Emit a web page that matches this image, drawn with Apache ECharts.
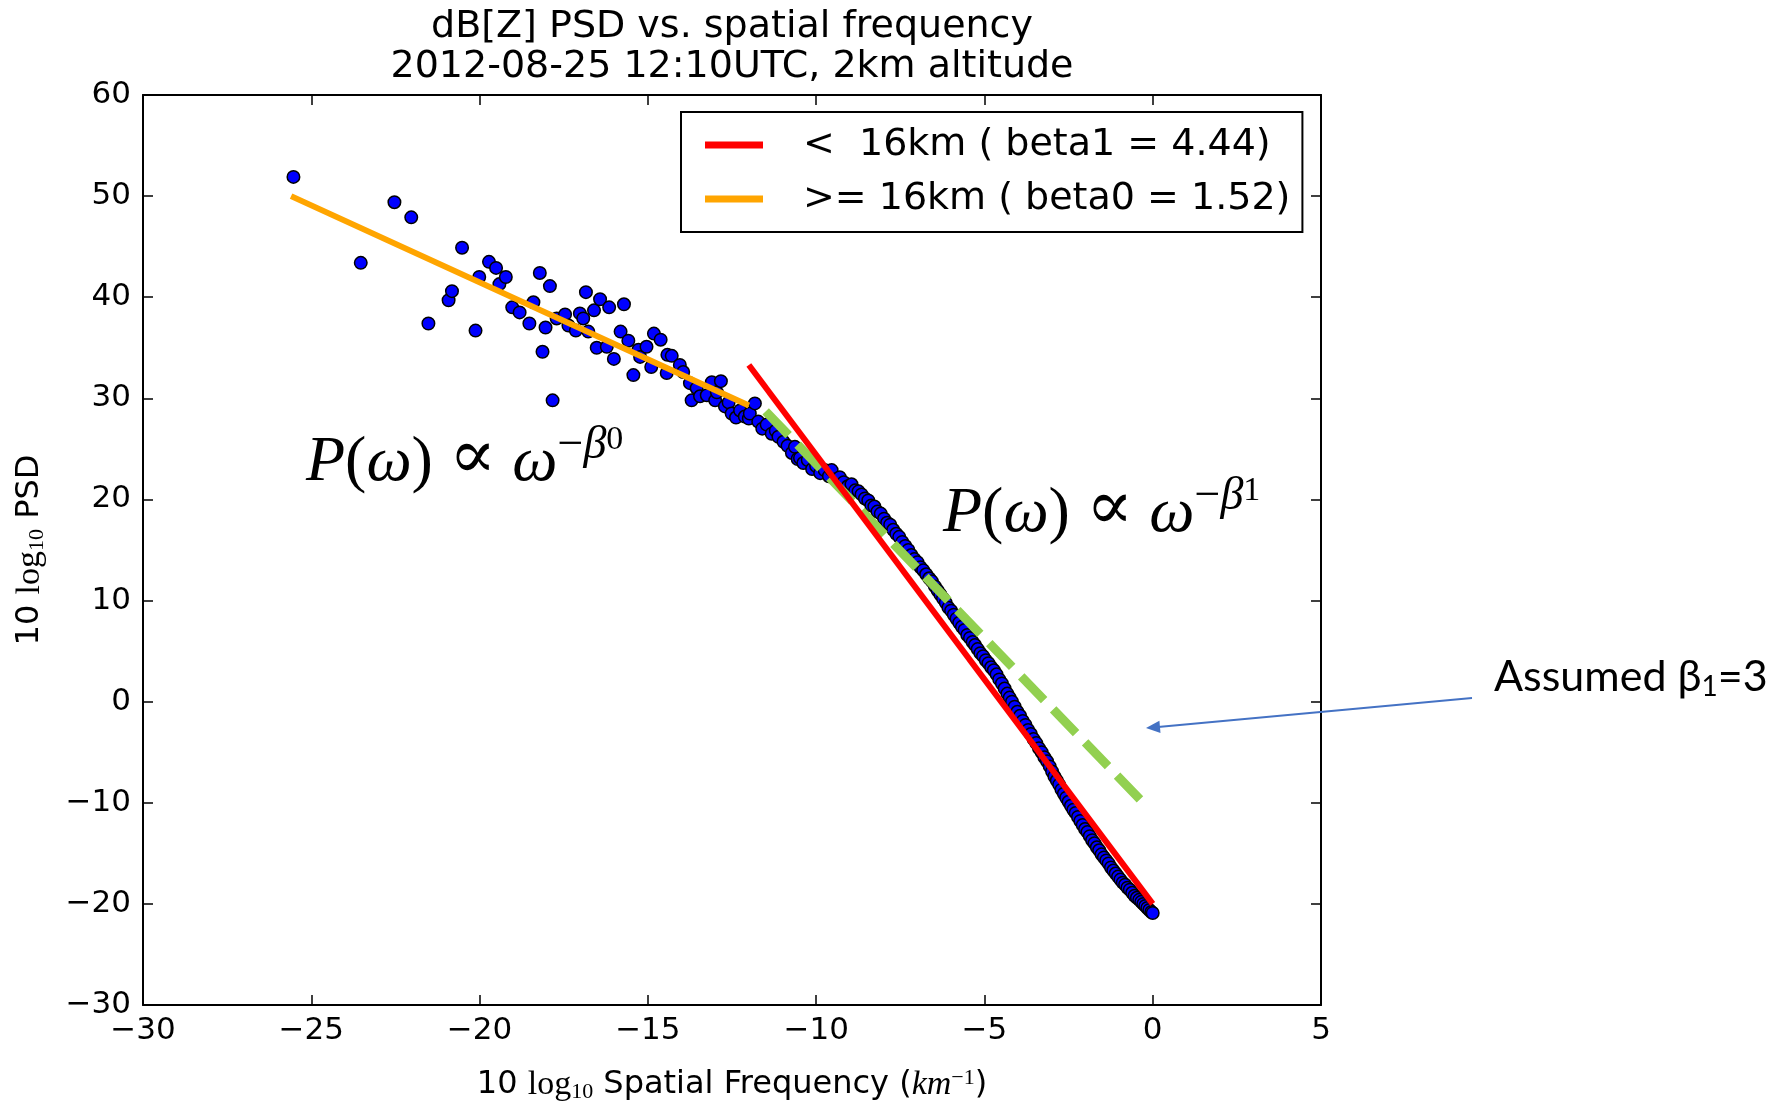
<!DOCTYPE html>
<html>
<head>
<meta charset="utf-8">
<title>dB[Z] PSD vs. spatial frequency</title>
<script src="https://cdn.jsdelivr.net/npm/echarts@6.0.0/dist/echarts.min.js"></script>
<style>
  html, body { margin: 0; padding: 0; background: #fff; }
  #chart { width: 1791px; height: 1104px; }
</style>
</head>
<body>
<div id="chart"></div>
<script>
/* 10 log10 spatial frequency (km^-1) of each PSD sample */
const freqDb = [
  -25.53, -23.53, -22.53, -22.03, -21.52, -20.92, -20.82, -20.52, -20.12, -20.01,
  -19.72, -19.51, -19.41, -19.22, -19.03, -18.81, -18.52, -18.40, -18.21, -18.13,
  -18.04, -17.91, -17.83, -17.71, -17.46, -17.36, -17.14, -17.02, -16.92, -16.84,
  -16.77, -16.60, -16.52, -16.42, -16.22, -16.15, -16.01, -15.81, -15.71, -15.58,
  -15.43, -15.28, -15.23, -15.04, -14.90, -14.82, -14.62, -14.44, -14.42, -14.29,
  -14.05, -13.95, -13.75, -13.70, -13.55, -13.45, -13.25, -13.10, -13.00, -12.95,
  -12.83, -12.71, -12.60, -12.51, -12.38, -12.26, -12.12, -12.00, -11.97, -11.82,
  -11.72, -11.60, -11.47, -11.32, -11.20, -11.12, -10.97,
  -10.85, -10.72, -10.63, -10.55, -10.48, -10.38, -10.25, -10.12, -10.00, -9.88,
  -9.75, -9.62, -9.54, -9.42, -9.30, -9.18, -9.06, -8.95, -8.84, -8.74,
  -8.65, -8.55, -8.45, -8.36, -8.27, -8.18, -8.08, -7.98, -7.89, -7.80,
  -7.71, -7.62, -7.53, -7.44, -7.35, -7.26, -7.17, -7.08, -6.99, -6.90,
  -6.82, -6.73, -6.64, -6.56, -6.47, -6.39, -6.31, -6.23, -6.15, -6.07,
  -5.99, -5.91, -5.83, -5.75, -5.67, -5.59, -5.51, -5.43, -5.35, -5.28,
  -5.20, -5.12, -5.04, -4.96, -4.88, -4.80, -4.72, -4.64, -4.56, -4.48,
  -4.40, -4.32, -4.25, -4.18, -4.10, -4.02, -3.94, -3.86, -3.78, -3.70,
  -3.62, -3.54, -3.46, -3.38, -3.30, -3.22, -3.14, -3.06, -2.99, -2.92,
  -2.85, -2.78, -2.71, -2.64, -2.57, -2.50, -2.43, -2.36, -2.29, -2.22,
  -2.15, -2.08, -2.01, -1.94, -1.87, -1.80, -1.73, -1.66, -1.59, -1.52,
  -1.45, -1.38, -1.31, -1.24, -1.17, -1.10, -1.03, -0.96, -0.89, -0.82,
  -0.75, -0.68, -0.61, -0.54, -0.47, -0.40, -0.34, -0.28, -0.22, -0.16,
  -0.10, -0.04, 0.00
];

/* 10 log10 PSD of each sample (same order as freqDb) */
const psdDb = [
  51.9, 43.4, 49.4, 47.9, 37.4, 39.7, 40.6, 44.9, 36.7, 42.0,
  43.5, 42.9, 41.3, 42.0, 39.0, 38.5, 37.4, 39.5, 42.4, 34.6,
  37.0, 41.1, 29.8, 37.9, 38.3, 37.2, 36.7, 38.4, 37.9, 40.5,
  36.6, 38.7, 35.0, 39.8, 35.1, 39.0, 33.9, 36.6, 39.3, 35.7,
  32.3, 34.8, 34.1, 35.1, 33.1, 36.4, 35.8, 32.5, 34.3, 34.2,
  33.3, 32.6, 31.5, 29.8, 31.0, 30.2, 30.3, 31.6, 29.8, 30.6,
  31.7, 29.2, 29.6, 28.5, 28.1, 28.8, 28.2, 28.0, 28.5, 29.5,
  27.7, 27.0, 27.4, 26.5, 26.8, 26.2, 25.7,
  25.3, 24.6, 25.2, 24.0, 24.1, 23.6, 23.9, 23.0, 23.3, 22.6,
  22.9, 22.3, 22.9, 22.0, 22.2, 21.7, 21.3, 21.5, 20.9, 20.8,
  20.5, 20.1, 19.9, 19.4, 19.3, 18.8, 18.6, 18.1, 17.7, 17.5,
  17.0, 16.6, 16.3, 15.8, 15.4, 15.0, 14.5, 14.1, 13.8, 13.3,
  13.0, 12.6, 12.2, 11.9, 11.4, 11.0, 10.6, 10.2, 9.8, 9.3,
  9.0, 8.6, 8.2, 7.8, 7.4, 7.1, 6.6, 6.3, 5.9, 5.6,
  5.2, 4.8, 4.5, 4.1, 3.8, 3.4, 3.1, 2.7, 2.2, 1.8,
  1.3, 0.8, 0.4, 0.0, -0.5, -1.0, -1.4, -1.9, -2.3, -2.8,
  -3.2, -3.7, -4.1, -4.6, -5.0, -5.5, -5.9, -6.4, -6.9, -7.4,
  -7.8, -8.2, -8.7, -9.1, -9.5, -9.9, -10.3, -10.7, -11.0, -11.4,
  -11.8, -12.2, -12.6, -12.9, -13.3, -13.7, -14.0, -14.4, -14.7, -15.1,
  -15.4, -15.7, -16.0, -16.4, -16.7, -17.0, -17.3, -17.6, -17.9, -18.1,
  -18.4, -18.6, -18.9, -19.2, -19.4, -19.6, -19.8, -20.0, -20.2, -20.4,
  -20.6, -20.8, -20.9
];

/* fitted power-law segments (end points) */
const fitSmallX = [-12.0, 0.0];     // < 16km, beta1 = 4.44
const fitSmallY = [33.3, -20.0];
const fitLargeX = [-25.6, -12.0];   // >= 16km, beta0 = 1.52
const fitLargeY = [50.0, 29.3];
const assumedX = [-11.5, -0.25];    // assumed beta1 = 3 (dashed)
const assumedY = [28.7, -10.1];

const legendNames = ['<  16km ( beta1 = 4.44)', '>= 16km ( beta0 = 1.52)'];
const titleLines = ['dB[Z] PSD vs. spatial frequency', '2012-08-25 12:10UTC, 2km altitude'];
const xTicks = { min: -30, max: 5, step: 5 };
const yTicks = { min: -30, max: 60, step: 10 };

const SANS = '"DejaVu Sans", sans-serif';
const SERIF = '"Liberation Serif", "DejaVu Serif", serif';

const pairs = (xs, ys) => xs.map((x, i) => [x, ys[i]]);
const fmtTick = (v) => (v < 0 ? '\u2212' + Math.abs(v) : String(v));

/* axis name rich styles (mathtext style log10 etc.) */
const nameRich = {
  n: { fontFamily: SANS, fontSize: 32, lineHeight: 36, color: '#000' },
  m: { fontFamily: SERIF, fontSize: 34, lineHeight: 36, color: '#000' },
  mi: { fontFamily: SERIF, fontStyle: 'italic', fontSize: 34, lineHeight: 36, color: '#000' },
  sub: { fontFamily: SERIF, fontSize: 22, lineHeight: 18, verticalAlign: 'bottom', color: '#000' },
  sup: { fontFamily: SERIF, fontSize: 22, lineHeight: 18, verticalAlign: 'top', color: '#000' }
};

/* rich styles of the P(w) formulas drawn on the plot; main tokens sit low, exponent sits high */
const formulaRich = {
  i: { fontFamily: SERIF, fontStyle: 'italic', fontSize: 64, lineHeight: 72, padding: [12, 0, 0, 0], verticalAlign: 'bottom', color: '#000' },
  r: { fontFamily: SERIF, fontSize: 64, lineHeight: 72, padding: [12, 0, 0, 0], verticalAlign: 'bottom', color: '#000' },
  p: { fontFamily: '"DejaVu Serif", serif', fontSize: 70, lineHeight: 72, padding: [12, 0, 0, 0], verticalAlign: 'bottom', color: '#000' },
  em: { fontFamily: SERIF, fontSize: 46, lineHeight: 40, verticalAlign: 'top', color: '#000' },
  e: { fontFamily: SERIF, fontStyle: 'italic', fontSize: 46, lineHeight: 40, verticalAlign: 'top', color: '#000' },
  es: { fontFamily: SERIF, fontSize: 34, lineHeight: 50, verticalAlign: 'top', color: '#000' }
};
const formula = (k) => '{i|P}{r|(}{i|\u03c9}{r|) }{p|\u221d}{r| }{i|\u03c9}{em|\u2212}{e|\u03b2}{es|' + k + '}';

const frameAxis = (pos) => ({
  type: 'value',
  position: pos,
  axisLine: { show: true, onZero: false, lineStyle: { color: '#000', width: 2 } },
  axisTick: { show: true, inside: true, length: 10, lineStyle: { color: '#000', width: 1.5 } },
  splitLine: { show: false }
});

const chart = echarts.init(document.getElementById('chart'));

const option = {
  animation: false,
  backgroundColor: '#fff',
  grid: { left: 143, right: 470, top: 95, bottom: 99, containLabel: false, outerBoundsMode: 'none' },
  legend: {
    data: legendNames,
    orient: 'vertical',
    left: 681,
    top: 112,
    padding: [12, 12, 12, 24],
    itemGap: 12,
    itemWidth: 58,
    itemHeight: 7,
    icon: 'rect',
    selectedMode: false,
    backgroundColor: '#fff',
    borderColor: '#000',
    borderWidth: 2,
    borderRadius: 0,
    textStyle: { fontFamily: SANS, fontSize: 38, lineHeight: 42, color: '#000', padding: [0, 0, 0, 35] }
  },
  xAxis: [
    Object.assign(frameAxis('bottom'), {
      min: xTicks.min, max: xTicks.max, interval: xTicks.step,
      axisLabel: { color: '#000', fontFamily: SANS, fontSize: 31, margin: 10, formatter: fmtTick },
      name: '{n|10 }{m|log}{sub|10}{n| Spatial Frequency (}{mi|km}{sup|\u22121}{n|)}',
      nameLocation: 'middle',
      nameGap: 62,
      nameTextStyle: { rich: nameRich }
    }),
    Object.assign(frameAxis('top'), {
      min: xTicks.min, max: xTicks.max, interval: xTicks.step,
      axisLabel: { show: false }
    })
  ],
  yAxis: [
    Object.assign(frameAxis('left'), {
      min: yTicks.min, max: yTicks.max, interval: yTicks.step,
      axisLabel: { color: '#000', fontFamily: SANS, fontSize: 31, margin: 12, formatter: fmtTick },
      name: '{n|10 }{m|log}{sub|10}{n| PSD}',
      nameLocation: 'middle',
      nameGap: 95,
      nameTextStyle: { rich: nameRich }
    }),
    Object.assign(frameAxis('right'), {
      min: yTicks.min, max: yTicks.max, interval: yTicks.step,
      axisLabel: { show: false }
    })
  ],
  series: [
    {
      name: 'PSD',
      type: 'scatter',
      data: pairs(freqDb, psdDb),
      symbolSize: 12.5,
      itemStyle: { color: '#0000ff', borderColor: '#000', borderWidth: 1.5, opacity: 1 },
      z: 2
    },
    {
      name: 'Assumed beta1 = 3',
      type: 'line',
      data: pairs(assumedX, assumedY),
      symbol: 'none',
      itemStyle: { color: '#92d050' },
      lineStyle: { color: '#92d050', width: 9, type: [33, 13], cap: 'butt' },
      z: 3
    },
    {
      name: legendNames[0],
      type: 'line',
      data: pairs(fitSmallX, fitSmallY),
      symbol: 'none',
      itemStyle: { color: '#ff0000' },
      lineStyle: { color: '#ff0000', width: 6 },
      z: 4
    },
    {
      name: legendNames[1],
      type: 'line',
      data: pairs(fitLargeX, fitLargeY),
      symbol: 'none',
      itemStyle: { color: '#ffa500' },
      lineStyle: { color: '#ffa500', width: 6 },
      z: 4
    }
  ],
  graphic: [
    /* two-line title centred over the plot area */
    { type: 'text', x: 732, y: 27, style: { text: titleLines[0], font: '38px ' + SANS, fill: '#000', align: 'center', verticalAlign: 'middle' } },
    { type: 'text', x: 732, y: 67, style: { text: titleLines[1], font: '38px ' + SANS, fill: '#000', align: 'center', verticalAlign: 'middle' } },
    /* power-law formulas */
    { type: 'text', x: 306, y: 459, z: 10, style: { text: formula('0'), rich: formulaRich, align: 'left', verticalAlign: 'middle' } },
    { type: 'text', x: 943, y: 510, z: 10, style: { text: formula('1'), rich: formulaRich, align: 'left', verticalAlign: 'middle' } },
    /* annotation for the dashed line */
    {
      type: 'text', x: 1494, y: 677, z: 10,
      style: {
        text: '{a|Assumed \u03b2}{s|1}{a|=3}',
        rich: {
          a: { fontFamily: 'Lato, "Open Sans", sans-serif', fontSize: 43, lineHeight: 48, color: '#000' },
          s: { fontFamily: 'Lato, "Open Sans", sans-serif', fontSize: 28, lineHeight: 28, verticalAlign: 'bottom', color: '#000' }
        },
        align: 'left', verticalAlign: 'middle'
      }
    },
    { type: 'line', z: 10, shape: { x1: 1472, y1: 698, x2: 1158, y2: 727 }, style: { stroke: '#4472c4', lineWidth: 2 } },
    { type: 'polygon', z: 10, shape: { points: [[1146, 728], [1160.5, 733], [1159.4, 720.8]] }, style: { fill: '#4472c4' } }
  ]
};

chart.setOption(option);
</script>
</body>
</html>
